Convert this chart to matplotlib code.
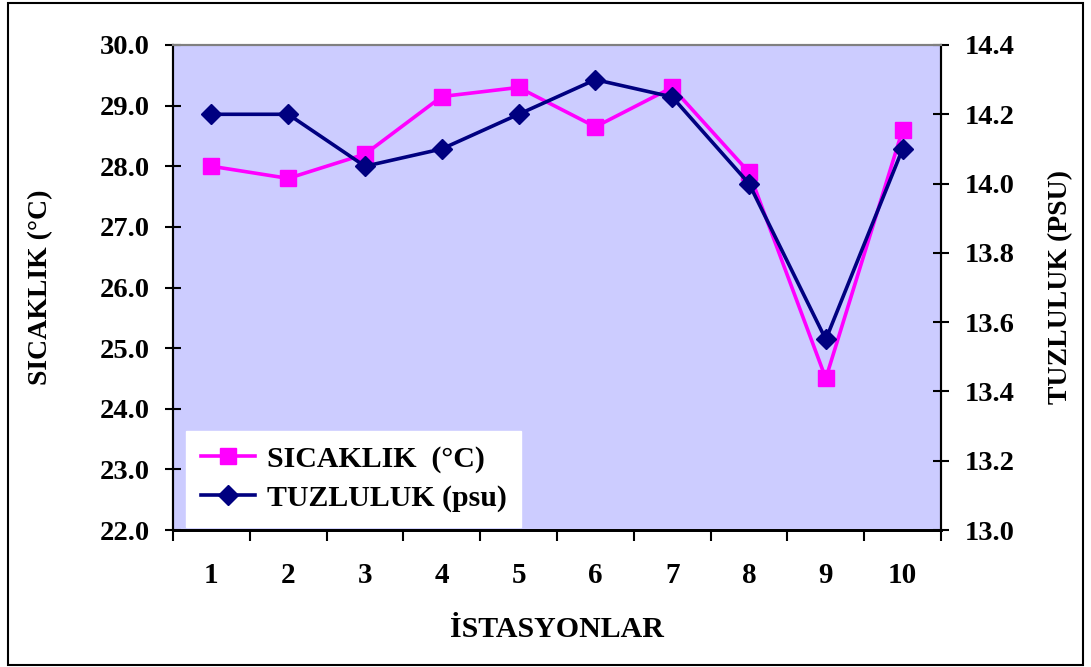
import matplotlib
matplotlib.use("Agg")
import matplotlib.pyplot as plt
from matplotlib.patches import Rectangle
from matplotlib.ticker import FixedLocator, NullFormatter, FormatStrFormatter

plt.rcParams['font.family'] = ['Liberation Serif', 'DejaVu Serif']
plt.rcParams['font.weight'] = 'bold'

# istasyon verileri
istasyonlar = [1, 2, 3, 4, 5, 6, 7, 8, 9, 10]
sicaklik = [28.0, 27.8, 28.2, 29.15, 29.3, 28.65, 29.3, 27.9, 24.5, 28.6]
tuzluluk = [14.2, 14.2, 14.05, 14.1, 14.2, 14.3, 14.25, 14.0, 13.55, 14.1]

sol_ticks = [22, 23, 24, 25, 26, 27, 28, 29, 30]
sag_ticks = [13.0, 13.2, 13.4, 13.6, 13.8, 14.0, 14.2, 14.4]

PEMBE = '#FF00FF'
LACIVERT = '#000080'
FS = 21

fig = plt.figure(figsize=(10.91, 6.67), dpi=100)
ax = fig.add_axes([173 / 1091, 1 - 530 / 667, 768 / 1091, 485 / 667])
ax.set_facecolor('#CCCCFF')
ax2 = ax.twinx()

l1, = ax.plot(istasyonlar, sicaklik, color=PEMBE, lw=2.6, marker='s',
              ms=11, mec=PEMBE, label='SICAKLIK  (°C)')
l2, = ax2.plot(istasyonlar, tuzluluk, color=LACIVERT, lw=2.6, marker='D',
               ms=10, mec=LACIVERT, label='TUZLULUK (psu)')

ax.set_xlim(0.5, 10.5)
ax.set_ylim(22, 30)
ax2.set_ylim(13.0, 14.4)

# kategori sinirlarinda tick, ortada etiket
ax.xaxis.set_major_locator(FixedLocator([i + 0.5 for i in range(0, 11)]))
ax.xaxis.set_major_formatter(NullFormatter())
ax.xaxis.set_minor_locator(FixedLocator(istasyonlar))
ax.set_xticklabels([str(i) for i in istasyonlar], minor=True)
ax.tick_params(axis='x', which='major', direction='out', length=8, width=1.5, color='black')
ax.tick_params(axis='x', which='minor', length=0, pad=23, labelsize=FS)

ax.set_yticks(sol_ticks)
ax.yaxis.set_major_formatter(FormatStrFormatter('%.1f'))
ax.tick_params(axis='y', direction='inout', length=12, width=1.5, pad=11, labelsize=FS - 0.5)
ax2.set_yticks(sag_ticks)
ax2.yaxis.set_major_formatter(FormatStrFormatter('%.1f'))
ax2.tick_params(axis='y', direction='inout', length=12, width=1.5, pad=11, labelsize=FS - 0.5)

for a in (ax, ax2):
    a.spines['top'].set_color('#808080')
    a.spines['top'].set_linewidth(1.5)
    a.spines['bottom'].set_linewidth(2)
    a.spines['left'].set_linewidth(1.5)
    a.spines['right'].set_linewidth(1.5)

ax.set_ylabel('SICAKLIK (°C)', fontsize=FS - 1, fontweight='bold')
ax.yaxis.set_label_coords(-0.156, 0.5)
ax2.set_ylabel('TUZLULUK (PSU)', fontsize=FS - 1, fontweight='bold')
ax2.yaxis.set_label_coords(1.139, 0.5)
ax.set_xlabel('İSTASYONLAR', fontsize=FS + 0.5, fontweight='bold')
ax.xaxis.set_label_coords(0.5, -0.178)

leg = ax2.legend(handles=[l1, l2], loc='lower left', bbox_to_anchor=(0.017, 0.006),
                 borderaxespad=0, frameon=True, fancybox=False, framealpha=1,
                 facecolor='white', edgecolor='white', fontsize=FS + 0.5,
                 handlelength=1.8, handletextpad=0.4, labelspacing=0.4,
                 borderpad=0.5)
for t in leg.get_texts():
    t.set_fontweight('bold')

fig.patches.append(Rectangle((8 / 1091, 2 / 667), 1075 / 1091, 662 / 667,
                             transform=fig.transFigure, fill=False,
                             edgecolor='black', lw=1.5))

fig.savefig('out.png', dpi=100)
